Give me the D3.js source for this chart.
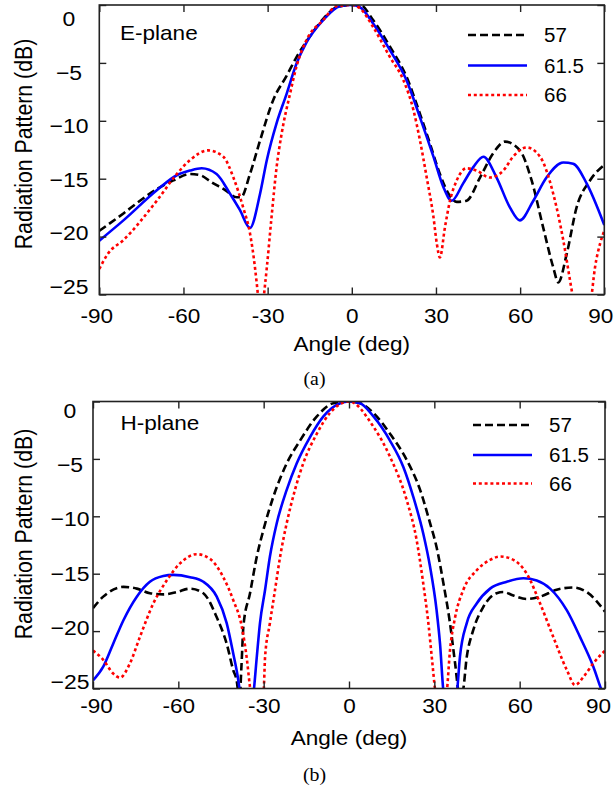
<!DOCTYPE html>
<html><head><meta charset="utf-8">
<script src="https://cdn.jsdelivr.net/npm/d3@7"></script>
<style>
body{margin:0;background:#fff}
svg text{font-family:"Liberation Sans",Arial,Helvetica,sans-serif;fill:#000}
</style></head>
<body><svg id="c" width="616" height="787"></svg>
<script>
// ---------- data (angle in deg, radiation pattern in dB) ----------
const seriesNames = ["57", "61.5", "66"];
const xTicks = [-90, -60, -30, 0, 30, 60, 90];
const yTicks = [0, -5, -10, -15, -20, -25];

// E-plane
const eAng57 = [-90,-81.4,-75.5,-69.5,-63.6,-57.7,-54,-50,-45,-41,-39.5,-36.3,-32.7,-28,-23.2,-19.7,-14.9,-10.2,-5.4,0,3,7.6,13.6,19.5,24.3,27.9,31.4,35,37.4,40.9,45.7,50.4,54.6,59.9,64.1,68.2,71.8,73.6,76.6,80.1,84.9,90];
const eDb57  = [-19.5,-18,-16.9,-15.9,-15.15,-14.6,-14.7,-15.3,-16,-16.6,-16.6,-14.6,-11.7,-8.2,-6.1,-4.5,-2.7,-1.2,-0.2,0,0,-1.3,-3.6,-6.2,-9.4,-12,-14.6,-16.5,-17,-16.9,-14.9,-12.8,-11.8,-12.55,-15.15,-19.2,-22.65,-23.95,-21.5,-17.5,-15.15,-13.8];
const eAng615 = [-90,-81.4,-69.5,-62.4,-57.7,-53.5,-48.2,-43.4,-39.9,-36.3,-32.7,-30.3,-26.8,-23.2,-19.7,-16.1,-10.2,-4.2,0,3,7.6,13.6,19.5,24.3,29.1,32.6,35.6,39.7,43.3,46.9,51.6,56.4,59.9,64.7,69.4,75.4,78.9,83.7,90];
const eDb615  = [-20.35,-18.6,-16,-14.7,-14.3,-14.1,-14.6,-16.3,-17.7,-19.25,-16.3,-13.4,-10.2,-7.65,-5.05,-3.2,-1.3,-0.1,0,-0.2,-1.6,-3.9,-6.5,-9.7,-13.1,-15.7,-16.9,-15.4,-14,-13.1,-14.9,-17.5,-18.6,-16.9,-14.9,-13.6,-13.7,-15.4,-19];
const eAng66 = [-90,-87,-81.4,-69.5,-62.4,-57.7,-51.2,-45.8,-42.2,-38.7,-36.3,-34.5,-33.3,-32.5,-31.5,-30.3,-28.6,-26.8,-25,-22,-19.7,-16.1,-10.2,-5.4,0,3,7.6,13.6,18.4,22,24.3,26.7,29.1,30.3,31.4,33.2,35,37.4,40.9,44.5,49.2,54,57.5,62.3,67.1,71.8,75.4,77.8,79,82,85,86.7,88.5,90];
const eDb66  = [-22.8,-21.5,-20.3,-16.9,-14.6,-13.4,-12.55,-13.1,-14.9,-17.5,-19.7,-22.7,-25.5,-28,-25.5,-22.7,-18.3,-14,-11.1,-7.65,-5.3,-3,-1.3,-0.1,0,-0.3,-1.9,-4.5,-6.5,-9.1,-11.7,-14.9,-18.3,-20.6,-21.8,-19.2,-16.9,-15.15,-14.1,-14.3,-14.9,-14.3,-13.1,-12.3,-13.1,-16.3,-20.35,-23.8,-25.5,-29,-26,-22.65,-20.6,-19.5];

// H-plane
const hAng57 = [-90,-86.4,-79.3,-74.6,-70,-65.3,-60.6,-55.9,-51.2,-46.5,-43,-40.7,-39.5,-38.5,-37.8,-37.1,-34.8,-32.4,-30.1,-26.6,-21.9,-17.2,-11.3,-5.5,0,3.9,8.6,14.4,20.3,25,28.5,30.8,33.2,35.5,37.3,38.8,40,41.4,43.7,47.2,51.9,54.3,57.8,62.5,67.2,73,78.9,83.6,90];
const hDb57  = [-18,-17,-16.15,-16.3,-16.7,-16.8,-16.6,-16.3,-16.7,-18.8,-21.1,-23.4,-24.3,-26,-23,-19.5,-16.7,-13.5,-11.2,-8.3,-5.4,-3.4,-1.3,-0.15,0,-0.15,-1,-2.8,-5.1,-7.7,-10.6,-12.7,-15.85,-19.3,-22.8,-25.5,-25.2,-22.25,-19.9,-17.9,-16.7,-16.6,-16.9,-17.2,-17,-16.4,-16.2,-16.6,-18.3];
const hAng615 = [-90,-86.4,-82.9,-79.3,-74.6,-70,-65.3,-61.8,-55.9,-51.2,-46.5,-43,-40.7,-38.9,-38,-36,-33.6,-32.4,-31.3,-29.5,-27.8,-25.4,-21.9,-18.4,-13.7,-9,-3.1,0,3.9,8.6,14.4,19.1,22.6,26.1,28.5,30.8,32,33.2,35.5,37.9,39,41.4,44.9,49.6,55.5,61.3,66,70.7,76.6,81.2,85.9,88.9,90];
const hDb615  = [-24.3,-23.1,-21.1,-19.05,-17,-15.7,-15.2,-15.1,-15.3,-15.7,-17,-19.3,-21.95,-24.3,-26,-28,-25.5,-22.2,-19.3,-16.4,-13.5,-10.6,-7.7,-5.4,-3.1,-1.3,-0.15,0,-0.15,-1.3,-3.4,-5.7,-8.3,-11.5,-14.4,-18.2,-21.1,-25.3,-28,-25.5,-22.25,-19.3,-17.6,-16.3,-15.7,-15.4,-15.6,-16.3,-18.2,-20.5,-23.1,-25.2,-25.8];
const hAng66 = [-90,-86.4,-82.9,-80.5,-77,-73.5,-68.8,-64.1,-59.4,-53.5,-48.9,-44.2,-40.7,-37.7,-36,-34.8,-33,-31,-30,-29.5,-27.8,-26,-24.2,-21.9,-19,-16.1,-11.3,-6.7,0,8.6,14.4,20.3,23.8,26.1,27.9,29.1,30.3,32.3,34.4,35.5,37.3,40.2,44.9,49.6,53.1,57.8,62.5,67.2,71.8,76.6,79.5,82.4,85.9,90];
const hDb66  = [-21.7,-22.5,-23.7,-24.05,-22.8,-20.5,-17.6,-15.6,-14.1,-13.3,-13.7,-15.3,-17.3,-19.6,-22.25,-24.9,-28,-27,-25.3,-22.25,-19.3,-16.4,-13.5,-10.6,-7.7,-5.4,-2.8,-1,0,-2.2,-4.8,-8.6,-12.1,-15.85,-19.3,-22.25,-25.2,-28,-25.3,-21.7,-18.8,-16.4,-14.7,-13.8,-13.5,-13.8,-15,-17.6,-20.5,-23.4,-24.7,-24,-22.8,-21.7];

// ---------- styles ----------
const styles = [
  {color: "#000000", dash: "8,4"},
  {color: "#0000ff", dash: null},
  {color: "#ff0000", dash: "3,2.8"}
];

const svg = d3.select("#c");
const zip = (a, b) => a.slice(0, Math.min(a.length, b.length)).map((v, i) => ({a: v, d: b[i]}));

const panels = [
  {id: "e", name: "E-plane", caption: "(a)",
   x0: 99.3, x1: 604.3, y0: 5, y1: 294.5,
   labTop: 19, labBot: 287, labX: 69, xPad: 14, xTitleY: 351, capY: 385, titleY: 144,
   endShift: {"-90": -3, "90": -4},
   nameX: 120, nameY: 39.5, legX: 468, legY: [35, 65.5, 95],
   data: [zip(eAng57, eDb57), zip(eAng615, eDb615), zip(eAng66, eDb66)]},
  {id: "h", name: "H-plane", caption: "(b)",
   x0: 93, x1: 605, y0: 401.5, y1: 688.5,
   labTop: 411, labBot: 682, labX: 70, xPad: 10, xTitleY: 745, capY: 780.5, titleY: 534,
   endShift: {"-90": 3, "90": -7},
   nameX: 120.5, nameY: 429.5, legX: 473, legY: [425, 455, 483.5],
   data: [zip(hAng57, hDb57), zip(hAng615, hDb615), zip(hAng66, hDb66)]}
];

panels.forEach(p => {
  const x = d3.scaleLinear().domain([-90, 90]).range([p.x0, p.x1]);
  const y = d3.scaleLinear().domain([0, -25]).range([p.y0, p.y1]);
  const yLab = d3.scaleLinear().domain([0, -25]).range([p.labTop, p.labBot]);
  const g = svg.append("g");

  // clip
  g.append("clipPath").attr("id", "clip-" + p.id)
    .append("rect").attr("x", p.x0).attr("y", p.y0)
    .attr("width", p.x1 - p.x0).attr("height", p.y1 - p.y0);

  // curves
  const line = d3.line().x(d => x(d.a)).y(d => y(d.d)).curve(d3.curveMonotoneX);
  const cg = g.append("g").attr("clip-path", `url(#clip-${p.id})`);
  p.data.forEach((s, i) => {
    cg.append("path").datum(s)
      .attr("d", line)
      .attr("fill", "none")
      .attr("stroke", styles[i].color)
      .attr("stroke-width", 2.6)
      .attr("stroke-dasharray", styles[i].dash)
      .attr("stroke-linejoin", "round");
  });

  // tick marks (inward, all four sides)
  const tk = (axis, tx, ty) => {
    const a = g.append("g").attr("transform", `translate(${tx},${ty})`).call(axis);
    a.select(".domain").remove();
    a.selectAll("line").attr("stroke", "#222").attr("stroke-width", 1.4);
  };
  tk(d3.axisBottom(x).tickValues(xTicks).tickSize(-7).tickFormat(""), 0, p.y1);
  tk(d3.axisTop(x).tickValues(xTicks).tickSize(-7).tickFormat(""), 0, p.y0);
  tk(d3.axisLeft(y).tickValues(yTicks).tickSize(-7).tickFormat(""), p.x0, 0);
  tk(d3.axisRight(y).tickValues(yTicks).tickSize(-7).tickFormat(""), p.x1, 0);

  // frame
  g.append("rect").attr("x", p.x0).attr("y", p.y0)
    .attr("width", p.x1 - p.x0).attr("height", p.y1 - p.y0)
    .attr("fill", "none").attr("stroke", "#222").attr("stroke-width", 1.6);

  // x tick labels
  const xl = g.append("g").attr("transform", `translate(0,${p.y1})`)
    .call(d3.axisBottom(x).tickValues(xTicks).tickSize(0).tickPadding(p.xPad).tickFormat(d => String(d)));
  xl.select(".domain").remove();
  xl.selectAll("text").attr("font-size", 20.5)
    .attr("transform", d => `translate(${p.endShift[String(d)] || 0},0) scale(1.1,1)`)
    .attr("font-family", "Liberation Sans, Arial, sans-serif").attr("fill", "#000");

  // y tick labels
  const yl = g.append("g").attr("transform", `translate(${p.labX},0)`)
    .call(d3.axisLeft(yLab).tickValues(yTicks).tickSize(0).tickPadding(0));
  yl.select(".domain").remove();
  yl.selectAll("text").attr("font-size", 20.5).attr("text-anchor", "middle")
    .attr("transform", "scale(1.12,1)")
    .attr("font-family", "Liberation Sans, Arial, sans-serif").attr("fill", "#000");

  // axis titles
  g.append("text").attr("x", 0).attr("y", 0)
    .attr("transform", `translate(${(p.x0 + p.x1) / 2},${p.xTitleY}) scale(1.1,1)`)
    .attr("text-anchor", "middle").attr("font-size", 20.5).text("Angle (deg)");
  g.append("text")
    .attr("transform", `translate(31.5,${p.titleY}) rotate(-90) scale(1,1.12)`)
    .attr("text-anchor", "middle").attr("font-size", 21.3).text("Radiation Pattern (dB)");

  // caption
  g.append("text").attr("transform", `translate(314.5,${p.capY}) scale(1.1,1)`)
    .attr("text-anchor", "middle").attr("font-size", 18)
    .style("font-family", "'Liberation Serif','Times New Roman',serif").text(p.caption);

  // plane name
  g.append("text").attr("transform", `translate(${p.nameX},${p.nameY}) scale(1.1,1)`)
    .attr("font-size", 20.5).text(p.name);

  // legend
  seriesNames.forEach((n, i) => {
    g.append("line").attr("x1", p.legX).attr("x2", p.legX + 59)
      .attr("y1", p.legY[i]).attr("y2", p.legY[i])
      .attr("stroke", styles[i].color).attr("stroke-width", 2.6)
      .attr("stroke-dasharray", styles[i].dash);
    g.append("text").attr("x", p.legX + 76).attr("y", p.legY[i] + 7.3)
      .attr("font-size", 20.5).text(n);
  });
});
</script></body></html>
